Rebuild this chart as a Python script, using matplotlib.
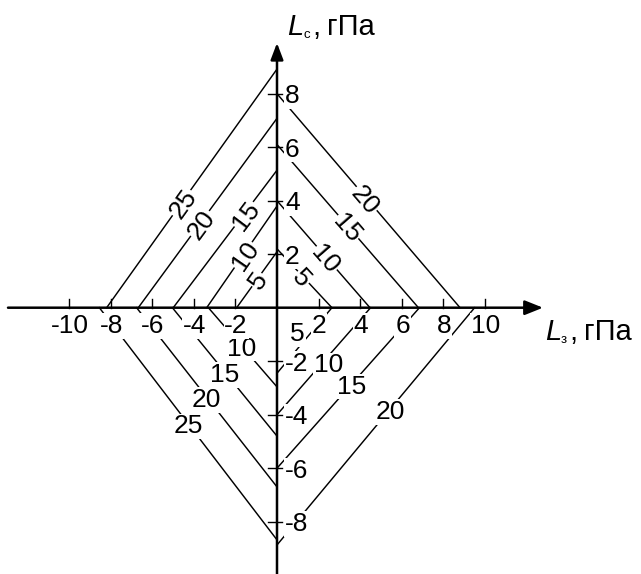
import numpy as np
import matplotlib
matplotlib.use("Agg")
import matplotlib.pyplot as plt

plt.rcParams['font.family'] = ['Liberation Sans', 'DejaVu Sans']

# each curve is one straight piece per quadrant: (x intercept, 0) -> (0, y intercept)
ul_levels = [5, 10, 15, 20, 25]
ul_x = [-1.94, -3.38, -4.99, -6.67, -8.19]
ul_y = [2.09, 3.8, 5.14, 7.08, 8.92]

ur_levels = [5, 10, 15, 20]
ur_x = [2.64, 4.47, 6.8, 8.8]
ur_y = [2.2, 4.0, 6.1, 8.0]

lr_levels = [5, 10, 15, 20]
lr_x = [2.64, 4.5, 6.85, 9.5]
lr_y = [-2.45, -4.0, -6.0, -8.87]

ll_levels = [10, 15, 20, 25]
ll_x = [-3.3, -5.03, -6.75, -8.54]
ll_y = [-2.96, -4.8, -6.7, -8.68]

x_ticks = [-10, -8, -6, -4, -2, 2, 4, 6, 8, 10]
y_ticks = [-8, -6, -4, -2, 2, 4, 6, 8]

# label placement along each piece (0 = x axis end, 1 = y axis end)
ul_pos = [0.5, 0.52, 0.68, 0.445, 0.44]
ur_pos = [0.52, 0.465, 0.496, 0.51]
lr_pos = [0.45, 0.451, 0.476, 0.428]
ll_pos = [0.485, 0.503, 0.5, 0.5]
lr_shift = [(-7, 4), (0, -5), (0, 0), (0, 0)]

W, H = 641, 574
x0_px, y0_px = 277, 307.7      # origin in pixels
sx, sy = 20.8, 26.75           # pixels per unit
FS = 19
FS_TITLE = 21

fig = plt.figure(figsize=(W / 100, H / 100), dpi=100)
ax = fig.add_axes([0, 0, 1, 1])
ax.set_xlim(-x0_px / sx, (W - x0_px) / sx)
ax.set_ylim((y0_px - H) / sy, y0_px / sy)
ax.axis('off')

lbl_box = dict(fc='white', ec='none', pad=0.5)


def draw_quadrant(levels, xs, ys, pos, upright=False, shift=None):
    for i, (lev, xa, yb) in enumerate(zip(levels, xs, ys)):
        ax.plot([xa, 0], [0, yb], color='k', lw=1.05, zorder=1)
        t = pos[i]
        px, py = xa * (1 - t), yb * t
        if upright:
            dx, dy = shift[i] if shift else (0, 0)
            ax.annotate(str(lev), xy=(px, py), xytext=(dx, dy),
                        textcoords='offset points', ha='center',
                        va='center_baseline', fontsize=FS,
                        bbox=lbl_box, zorder=3)
        else:
            ang = np.degrees(np.arctan2(yb, -xa))
            if ang > 90:
                ang -= 180
            ax.text(px, py, str(lev), rotation=ang, transform_rotates_text=True,
                    rotation_mode='anchor', ha='center', va='center_baseline',
                    fontsize=FS, bbox=lbl_box, zorder=3)


draw_quadrant(ul_levels, ul_x, ul_y, ul_pos)
draw_quadrant(ur_levels, ur_x, ur_y, ur_pos)
draw_quadrant(lr_levels, lr_x, lr_y, lr_pos, upright=True, shift=lr_shift)
draw_quadrant(ll_levels, ll_x, ll_y, ll_pos, upright=True)

# axes with arrows
ax.annotate('', xy=((543 - x0_px) / sx, 0), xytext=((8 - x0_px) / sx, 0),
            arrowprops=dict(arrowstyle='-|>,head_length=0.55,head_width=0.22',
                            mutation_scale=20, lw=1.8, color='k',
                            shrinkA=0, shrinkB=0), zorder=4)
ax.annotate('', xy=(0, (y0_px - 43) / sy), xytext=(0, (y0_px - 574) / sy),
            arrowprops=dict(arrowstyle='-|>,head_length=0.5,head_width=0.19',
                            mutation_scale=20, lw=1.8, color='k',
                            shrinkA=0, shrinkB=0), zorder=4)

# tick marks and tick labels
for v in x_ticks:
    ax.plot([v, v], [0, 9 / sy], color='k', lw=1.0, zorder=4)
    ax.annotate(str(v), xy=(v, 0), xytext=(0.5, -18.3), textcoords='offset points',
                ha='center', va='baseline', fontsize=FS, bbox=lbl_box, zorder=3)
for v in y_ticks:
    ax.plot([-8.5 / sx, 4.7 / sx], [v, v], color='k', lw=1.0, zorder=4)
    ax.annotate(str(v), xy=(0, v), xytext=(5.8, -6.8), textcoords='offset points',
                ha='left', va='baseline', fontsize=FS, bbox=lbl_box, zorder=3)


def fig_xy(px, py):
    return px / W, 1 - py / H


# axis titles: italic L with a small Cyrillic subscript, then units
fig.text(*fig_xy(545, 340), 'L', style='italic', fontsize=FS_TITLE, va='baseline')
fig.text(*fig_xy(561, 343), 'з', fontsize=9.5, va='baseline')
fig.text(*fig_xy(569, 340), ',', fontsize=FS_TITLE, va='baseline')
fig.text(*fig_xy(584, 340), 'гПа', fontsize=FS_TITLE, va='baseline')

fig.text(*fig_xy(287, 35), 'L', style='italic', fontsize=FS_TITLE, va='baseline')
fig.text(*fig_xy(303, 38), 'с', fontsize=9.5, va='baseline')
fig.text(*fig_xy(312, 35), ',', fontsize=FS_TITLE, va='baseline')
fig.text(*fig_xy(327, 35), 'гПа', fontsize=FS_TITLE, va='baseline')

fig.savefig('out.png', dpi=100)
